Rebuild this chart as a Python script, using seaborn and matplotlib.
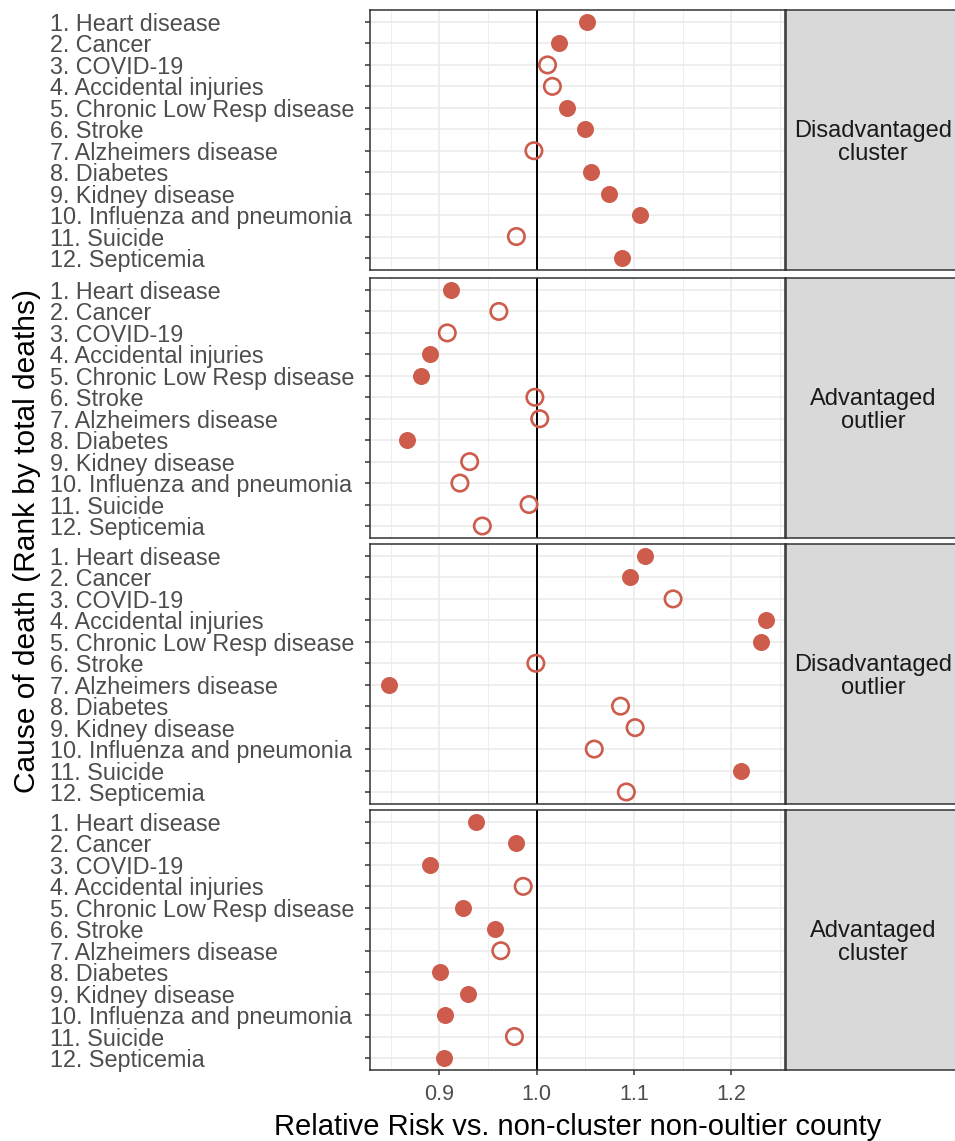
import numpy as np
import pandas as pd
import matplotlib
matplotlib.use("Agg")
import matplotlib.pyplot as plt
import seaborn as sns

# causes in rank order (rank by total deaths)
causes = [
    "1. Heart disease", "2. Cancer", "3. COVID-19", "4. Accidental injuries",
    "5. Chronic Low Resp disease", "6. Stroke", "7. Alzheimers disease",
    "8. Diabetes", "9. Kidney disease", "10. Influenza and pneumonia",
    "11. Suicide", "12. Septicemia",
]
ranks = list(range(1, 13))

groups = ["Disadvantaged\ncluster", "Advantaged\noutlier",
          "Disadvantaged\noutlier", "Advantaged\ncluster"]

# relative risk per group
rr_dis_cluster = [1.052, 1.023, 1.011, 1.016, 1.031, 1.050,
                  0.997, 1.056, 1.074, 1.106, 0.979, 1.088]
rr_adv_outlier = [0.912, 0.961, 0.908, 0.890, 0.881, 0.998,
                  1.003, 0.867, 0.931, 0.921, 0.992, 0.944]
rr_dis_outlier = [1.111, 1.096, 1.140, 1.235, 1.230, 0.999,
                  0.848, 1.086, 1.101, 1.059, 1.210, 1.092]
rr_adv_cluster = [0.937, 0.979, 0.890, 0.986, 0.924, 0.957,
                  0.963, 0.901, 0.929, 0.906, 0.977, 0.905]

# filled = significant, open = not significant
sig_dis_cluster = [1, 1, 0, 0, 1, 1, 0, 1, 1, 1, 0, 1]
sig_adv_outlier = [1, 0, 0, 1, 1, 0, 0, 1, 0, 0, 0, 0]
sig_dis_outlier = [1, 1, 0, 1, 1, 0, 1, 0, 0, 0, 1, 0]
sig_adv_cluster = [1, 1, 1, 0, 1, 1, 0, 1, 1, 1, 0, 1]

RED = "#cd5c4c"
GRID = "#ebebeb"
DARK = "#333333"


def build_frame():
    rrs = [rr_dis_cluster, rr_adv_outlier, rr_dis_outlier, rr_adv_cluster]
    sigs = [sig_dis_cluster, sig_adv_outlier, sig_dis_outlier, sig_adv_cluster]
    rows = []
    for g, rr, sg in zip(groups, rrs, sigs):
        for c, r, v, s in zip(causes, ranks, rr, sg):
            rows.append({"group": g, "cause": c, "rank": r, "rr": v, "sig": s})
    return pd.DataFrame(rows)


def style_panel(ax, show_x):
    ax.set_xlim(0.8286, 1.255)
    ax.set_ylim(12.56, 0.44)
    ax.set_xticks([0.9, 1.0, 1.1, 1.2])
    ax.set_xticks([0.85, 0.95, 1.05, 1.15, 1.25], minor=True)
    ax.set_yticks(ranks)
    ax.set_yticklabels(causes, ha="left")
    ax.grid(which="major", color=GRID, linewidth=1.2, zorder=0)
    ax.grid(which="minor", axis="x", color=GRID, linewidth=0.6, zorder=0)
    ax.set_axisbelow(True)
    # left-justified labels starting near the figure's left edge
    ax.tick_params(axis="y", left=True, length=3.5, width=1.1, color=DARK,
                   labelsize=16.8, labelcolor="#4d4d4d", pad=227)
    # only the bottom facet carries x ticks
    ax.tick_params(axis="x", which="major", bottom=show_x, length=3.5,
                   width=1.1, color=DARK, labelsize=15.5,
                   labelcolor="#4d4d4d", pad=6.5, labelbottom=show_x)
    ax.tick_params(axis="x", which="minor", bottom=False, length=0)
    for sp in ax.spines.values():
        sp.set_color(DARK)
        sp.set_linewidth(1.1)
        sp.set_visible(True)
    ax.set_xlabel("")
    ax.set_ylabel("")


def main():
    sns.set_theme(style="white")
    plt.rcParams["font.family"] = ["Liberation Sans", "DejaVu Sans"]

    df = build_frame()
    W, H = 955, 1141
    fig = plt.figure(figsize=(W / 100, H / 100), dpi=100)

    tops = [10, 278, 544, 810]
    ph = 260
    for i, g in enumerate(groups):
        sub = df[df["group"] == g]
        ax = fig.add_axes([370 / W, 1 - (tops[i] + ph) / H, 415 / W, ph / H])
        ax.axvline(1.0, color="black", linewidth=1.4, zorder=2)

        filled = sub[sub["sig"] == 1]
        sns.scatterplot(data=filled, x="rr", y="rank", color=RED, s=150,
                        linewidth=0, ax=ax, zorder=3, legend=False)
        hollow = sub[sub["sig"] == 0]
        sns.scatterplot(data=hollow, x="rr", y="rank", color=RED, s=140,
                        ax=ax, zorder=3, legend=False)
        pts = ax.collections[-1]
        pts.set_facecolor("none")
        pts.set_edgecolor(RED)
        pts.set_linewidth(1.9)

        style_panel(ax, show_x=(i == len(groups) - 1))

        # facet strip on the right
        sx = fig.add_axes([786 / W, 1 - (tops[i] + ph) / H, 174 / W, ph / H])
        sx.set_facecolor("#d9d9d9")
        sx.set_xticks([])
        sx.set_yticks([])
        for sp in sx.spines.values():
            sp.set_color(DARK)
            sp.set_linewidth(1.1)
        sx.text(0.5, 0.49, g, ha="center", va="center", fontsize=17,
                color="#1a1a1a", transform=sx.transAxes, linespacing=1.05)

    fig.text(578 / W, 1 - 1127 / H,
             "Relative Risk vs. non-cluster non-oultier county",
             ha="center", va="center", fontsize=21, color="black")
    fig.text(27 / W, 1 - 541 / H, "Cause of death (Rank by total deaths)",
             ha="center", va="center", rotation=90, fontsize=21.5, color="black")

    fig.savefig("out.png", dpi=100)
    plt.close(fig)


if __name__ == "__main__":
    main()
